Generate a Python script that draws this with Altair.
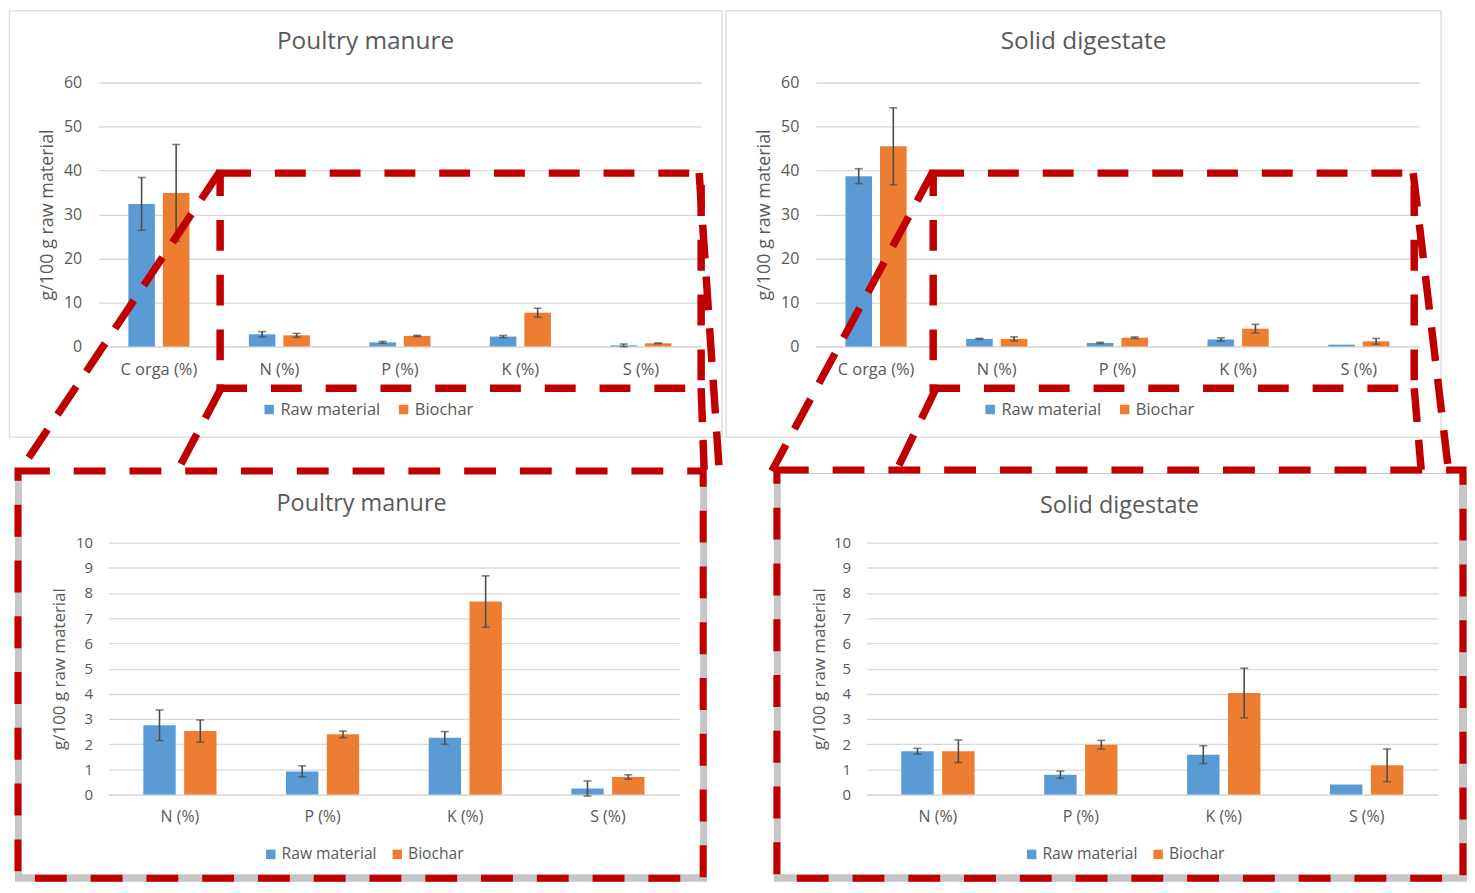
import altair as alt
import pandas as pd

# ---------------- data ----------------
CATEGORIES = ["C orga (%)", "N (%)", "P (%)", "K (%)", "S (%)"]
ZOOM_CATEGORIES = ["N (%)", "P (%)", "K (%)", "S (%)"]
SERIES = ["Raw material", "Biochar"]

POULTRY_RAW = [32.4, 2.75, 0.92, 2.25, 0.24]
POULTRY_RAW_ERR = [6.0, 0.61, 0.22, 0.25, 0.30]
POULTRY_BIOCHAR = [34.9, 2.52, 2.39, 7.66, 0.70]
POULTRY_BIOCHAR_ERR = [11.0, 0.44, 0.13, 1.02, 0.085]

DIGESTATE_RAW = [38.7, 1.72, 0.79, 1.585, 0.40]
DIGESTATE_RAW_ERR = [1.7, 0.115, 0.145, 0.355, 0.0]
DIGESTATE_BIOCHAR = [45.5, 1.72, 1.98, 4.03, 1.16]
DIGESTATE_BIOCHAR_ERR = [8.75, 0.45, 0.17, 0.985, 0.65]

TITLE_POULTRY = "Poultry manure"
TITLE_DIGESTATE = "Solid digestate"
Y_TITLE = "g/100 g raw material"

# ---------------- styling ----------------
FONT = "Open Sans"
TEXT = "#595959"
GRID = "#D9D9D9"
RED = "#C00000"
ERRC = "#4d4d4d"
BLUE = "#5B9BD5"
ORANGE = "#ED7D31"
SHADOW = "#c6c6c6"
DUMMY = pd.DataFrame({"d": [0]})
NO_VIEW = alt.ViewBackground(stroke=None, strokeWidth=0)


def frame(raw, raw_err, bio, bio_err, cats):
    rows = []
    for i, c in enumerate(CATEGORIES):
        if c not in cats:
            continue
        rows.append(dict(category=c, series=SERIES[0], value=raw[i], err=raw_err[i]))
        rows.append(dict(category=c, series=SERIES[1], value=bio[i], err=bio_err[i]))
    df = pd.DataFrame(rows)
    df["lo"] = df["value"] - df["err"]
    df["hi"] = df["value"] + df["err"]
    return df


def seg(x1, y1, x2, y2, dash=(34, 18), width=7.5):
    return alt.Chart(DUMMY).mark_rule(
        color=RED, strokeWidth=width, strokeDash=list(dash), strokeCap="butt"
    ).encode(x=alt.value(x1), y=alt.value(y1), x2=alt.value(x2), y2=alt.value(y2))


def box(x1, y1, x2, y2, fill=None, stroke=None, sw=1.0, dash=None, opacity=1.0):
    kw = dict(strokeWidth=sw)
    if fill is None:
        kw["fillOpacity"] = 0
        kw["fill"] = "white"
    else:
        kw["fill"] = fill
        kw["fillOpacity"] = opacity
    if stroke is not None:
        kw["stroke"] = stroke
    else:
        kw["strokeWidth"] = 0
    if dash is not None:
        kw["strokeDash"] = list(dash)
    return alt.Chart(DUMMY).mark_rect(**kw).encode(
        x=alt.value(x1), y=alt.value(y1), x2=alt.value(x2), y2=alt.value(y2)
    )


def label(txt, x, y, size):
    return alt.Chart(DUMMY).mark_text(
        font=FONT, fontSize=size, color=TEXT, align="center", baseline="middle"
    ).encode(x=alt.value(x), y=alt.value(y), text=alt.value(txt))


def panel(df, cats, ymax, ystep, w, h, s, title, title_xy, legend_xy, decorations_before, decorations_after):
    xax = alt.Axis(title=None, labelAngle=0, labelFont=FONT, labelFontSize=s["cat_fs"],
                   labelColor=TEXT, labelPadding=s["xlab_pad"], ticks=False, grid=False,
                   domainColor=GRID, domainWidth=1.3)
    yax = alt.Axis(title=Y_TITLE, titleFont=FONT, titleFontSize=s["yt_fs"], titleFontWeight="normal",
                   titleColor=TEXT, titleX=s["yt_x"], titleY=h / 2, titleAngle=270,
                   titleAlign="center", titleBaseline="middle",
                   values=list(range(0, ymax + 1, ystep)), labelFont=FONT,
                   labelFontSize=s["lab_fs"], labelColor=TEXT, labelPadding=s["ylab_pad"],
                   ticks=False, domain=False, gridColor=GRID, gridWidth=1.3)
    x = alt.X("category:N", sort=cats,
              scale=alt.Scale(domain=cats, paddingInner=s["pi"], paddingOuter=s["po"]), axis=xax)
    xo = alt.XOffset("series:N", sort=SERIES,
                     scale=alt.Scale(domain=SERIES, paddingInner=s["opi"], paddingOuter=0))
    yscale = alt.Scale(domain=[0, ymax], nice=False, zero=True)

    lx, ly = legend_xy
    color = alt.Color("series:N", sort=SERIES, scale=alt.Scale(domain=SERIES, range=[BLUE, ORANGE]),
                      legend=alt.Legend(orient="none", legendX=lx, legendY=ly, direction="horizontal",
                                        title=None, symbolType="square", symbolSize=90,
                                        symbolStrokeWidth=0, labelFont=FONT, labelFontSize=s["leg_fs"],
                                        labelColor=TEXT, columnPadding=s["leg_col"], labelOffset=3,
                                        padding=0))

    bars = alt.Chart(df).mark_bar().encode(
        x=x, xOffset=xo, y=alt.Y("value:Q", scale=yscale, axis=yax), color=color
    )
    dfe = df[df["err"] > 0]
    whisk = alt.Chart(dfe).mark_rule(color=ERRC, strokeWidth=1.6).encode(
        x=x, xOffset=xo, y=alt.Y("lo:Q", scale=yscale, axis=yax), y2="hi:Q"
    )
    cap_lo = alt.Chart(dfe).mark_tick(color=ERRC, thickness=1.6, size=8).encode(
        x=x, xOffset=xo, y=alt.Y("lo:Q", scale=yscale, axis=yax)
    )
    cap_hi = alt.Chart(dfe).mark_tick(color=ERRC, thickness=1.6, size=8).encode(
        x=x, xOffset=xo, y=alt.Y("hi:Q", scale=yscale, axis=yax)
    )
    ttl = label(title, title_xy[0], title_xy[1], s["title_fs"])
    layers = decorations_before + [bars, whisk, cap_lo, cap_hi, ttl] + decorations_after
    return alt.layer(*layers).properties(width=w, height=h, view=NO_VIEW)


def spacer(w, h, layers=None):
    base = alt.Chart(DUMMY).mark_point(opacity=0).encode(x=alt.value(0), y=alt.value(0))
    if layers:
        return alt.layer(base, *layers).properties(width=w, height=h, view=NO_VIEW)
    return base.properties(width=w, height=h, view=NO_VIEW)


def independent(c):
    return c.resolve_scale(color="independent", xOffset="independent", x="independent",
                           y="independent").resolve_legend(color="independent")


TOP = dict(lab_fs=16, cat_fs=16.5, yt_fs=18, yt_x=-51, ylab_pad=17, xlab_pad=15,
           leg_fs=16.5, leg_col=15, title_fs=24.5, pi=0.493, po=0.2465, opi=0.23)
BOT = dict(lab_fs=15, cat_fs=16, yt_fs=17, yt_x=-49, ylab_pad=16, xlab_pad=14,
           leg_fs=15.7, leg_col=12, title_fs=23.5, pi=0.487, po=0.2435, opi=0.207)
BOT4 = dict(BOT, yt_x=-47.5)

W1, W2, W3, W4 = 605, 606, 573, 574
H_TOP, H_BOT = 265, 253
GAP_TOP, GAP_L, GAP_M = 115, 10, 188
ROW_GAP = 197

df_poultry = frame(POULTRY_RAW, POULTRY_RAW_ERR, POULTRY_BIOCHAR, POULTRY_BIOCHAR_ERR, CATEGORIES)
df_digest = frame(DIGESTATE_RAW, DIGESTATE_RAW_ERR, DIGESTATE_BIOCHAR, DIGESTATE_BIOCHAR_ERR, CATEGORIES)
df_poultry_zoom = frame(POULTRY_RAW, POULTRY_RAW_ERR, POULTRY_BIOCHAR, POULTRY_BIOCHAR_ERR, ZOOM_CATEGORIES)
df_digest_zoom = frame(DIGESTATE_RAW, DIGESTATE_RAW_ERR, DIGESTATE_BIOCHAR, DIGESTATE_BIOCHAR_ERR, ZOOM_CATEGORIES)

RECT_DASH = (31, 24)

# top-left panel with its zoom frame and connectors (pixel offsets from its plot origin)
p1 = panel(
    df_poultry, CATEGORIES, 60, 10, W1, H_TOP, TOP, TITLE_POULTRY, (268, -41), (163, 320),
    [box(-89.5, -72, 626, 356, stroke=GRID, sw=1.3)],
    [box(122, 91, 605, 307, stroke=RED, sw=7.5, dash=RECT_DASH),
     seg(122, 89, -79, 390), seg(123, 307, 79, 390),
     seg(603, 91, 623, 387), seg(605, 307, 608, 389)],
)
p2 = panel(
    df_digest, CATEGORIES, 60, 10, W2, H_TOP, TOP, TITLE_DIGESTATE, (269, -41), (167, 320),
    [box(-90, -72, 628, 356, stroke=GRID, sw=1.3)],
    [box(118, 91, 601, 307, stroke=RED, sw=7.5, dash=RECT_DASH),
     seg(118, 89, -44, 390), seg(121, 307, 81, 390),
     seg(600, 91, 635, 386), seg(601, 307, 608, 389)],
)

# backgrounds of the bottom (zoomed) panels live in the spacers drawn before them
BOTTOM = 337
bg3 = [box(-94 + GAP_L, -69, 601 + GAP_L, BOTTOM + 3.5, fill=SHADOW),
       box(-87 + GAP_L, -69, 594 + GAP_L, BOTTOM - 4, fill="white"),
       box(-91 + GAP_L, -72, 597 + GAP_L, BOTTOM, stroke=RED, sw=7, dash=(32, 24))]
bg4 = [box(-93 + GAP_M, -70, 603 + GAP_M, BOTTOM + 3.5, fill=SHADOW),
       box(-86 + GAP_M, -69, 595 + GAP_M, BOTTOM - 4, fill="white"),
       box(-90 + GAP_M, -73, 599 + GAP_M, BOTTOM, stroke=RED, sw=7, dash=(32, 24))]

p3 = panel(df_poultry_zoom, ZOOM_CATEGORIES, 10, 1, W3, H_BOT, BOT, TITLE_POULTRY,
           (254, -39), (155, 305), [], [])
p4 = panel(df_digest_zoom, ZOOM_CATEGORIES, 10, 1, W4, H_BOT, BOT4, TITLE_DIGESTATE,
           (254, -37), (158, 305), [], [])

row1 = independent(alt.hconcat(p1, spacer(GAP_TOP, H_TOP), p2, spacing=0, bounds="flush"))
row2 = independent(alt.hconcat(spacer(GAP_L, H_BOT, bg3), p3, spacer(GAP_M, H_BOT, bg4), p4,
                               spacing=0, bounds="flush"))

# nested concat groups have no own size under flush bounds, so the row spacing is
# the distance between the two rows' top edges
chart = independent(alt.vconcat(row1, row2, spacing=H_TOP + ROW_GAP, bounds="flush")).properties(
    padding={"left": 0, "top": 0, "right": 0, "bottom": 0},
).configure_view(
    stroke=None, strokeWidth=0
).configure(background="white")

chart.save("out.html", embed_options={"renderer": "svg", "actions": False})
